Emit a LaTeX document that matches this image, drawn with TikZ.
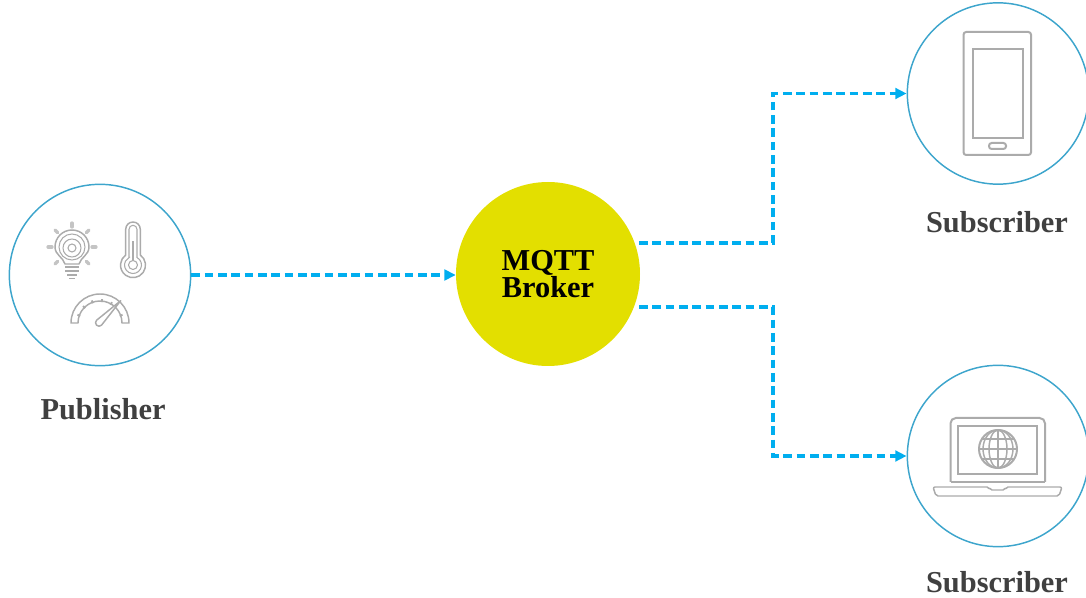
\documentclass[tikz,border=0pt]{standalone}
\usepackage{fontspec}
\setmainfont{Liberation Serif}
\usetikzlibrary{arrows.meta}
\definecolor{flowBlue}{HTML}{00AEEF}
\definecolor{ringBlue}{HTML}{3DA5CC}
\definecolor{brokerYellow}{HTML}{E3DF00}
\definecolor{iconGray}{HTML}{ABABAB}
\definecolor{labelGray}{HTML}{404040}
\begin{document}
\begin{tikzpicture}[
    x=0.75pt, y=-0.75pt,
    every node/.style={font=\fontsize{22.8}{18}\selectfont\bfseries},
    device/.style={circle, draw=ringBlue, line width=1.1pt, minimum size=136pt, inner sep=0pt},
    broker/.style={circle, fill=brokerYellow, minimum size=138pt, inner sep=0pt, align=center, text=black},
    caption/.style={text=labelGray},
    flow/.style={-{Triangle[length=8.5pt,width=8pt]}, flowBlue, line width=2.3pt, dash pattern=on 6.5pt off 3.5pt},
    icon/.style={draw=iconGray, line width=1.1pt, line join=round},
    thinicon/.style={draw=iconGray, line width=0.8pt},
    bold/.style={draw=iconGray, line width=1.5pt}
]
    \useasboundingbox (0,0) rectangle (1086,598);

% -------------------------
% Nodes
% -------------------------
    \node[device] (pub) at (100,275) {};
    \node[broker] (brk) at (548,274) {MQTT\\Broker};
    \node[device] (subTop) at (998,93.5) {};
    \node[device] (subBot) at (998,456) {};

    \node[caption] (pubLabel) at (103,409) {Publisher};
    \node[caption] (subTopLabel) at (997,222) {Subscriber};
    \node[caption] (subBotLabel) at (997,582) {Subscriber};

% -------------------------
% Arrows & Routing
% -------------------------
    \coordinate (brkTop) at (639,243);
    \coordinate (brkBot) at (639,307);
    \coordinate (turnTop) at (773,93.5);
    \coordinate (turnBot) at (773,456);

    \draw[flow] (pub) -- (brk.west |- pub);
    \draw[flow] (brkTop) -| (turnTop) -- (subTop.west);
    \draw[flow] (brkBot) -| (turnBot) -- (subBot.west);

% -------------------------
% Publisher icons
% -------------------------
    % Bulb with gear
    \draw[icon] (65,264) .. controls (63,257) and (55,255) .. (55,247)
        arc[start angle=180, end angle=360, radius=17]
        .. controls (89,255) and (81,257) .. (79,264) -- cycle;
    \draw[thinicon] (72,248) circle (9);
    \draw[thinicon] (72,248) circle (4);
    \draw[thinicon] (72,247) circle (13);
    \draw[icon] (65,267) -- (79,267) (65,271) -- (79,271);
    \draw[icon] (67,275) -- (77,275) (69,278.5) -- (75,278.5);
    \foreach \ang in {0,45,...,315} {
        \ifnum\ang=90 \else
            \draw[iconGray!70, line width=2.4pt, line cap=round] (72,247) ++(\ang:20) -- ++(\ang:4);
        \fi
    }

    % Thermometer
    \draw[icon] (125.7,255) -- (125.7,229.3) arc[start angle=180, end angle=360, radius=7.3] -- (140.3,255)
        arc[start angle=-54.3, end angle=234.3, radius=12.5] -- cycle;
    \draw[thinicon] (129,257.5) -- (129,229.3) arc[start angle=180, end angle=360, radius=4] -- (137,257.5)
        arc[start angle=-62, end angle=242, radius=8.5] -- cycle;
    \fill[iconGray] (131.7,241) rectangle (134.3,261);
    \draw[thinicon] (133,265) circle (4.5);

    % Gauge
    \draw[icon] (71,323) arc[start angle=180, end angle=360, radius=29] -- (122,323)
        arc[start angle=360, end angle=180, radius=22] -- cycle;
    \foreach \ang in {200,225,250,275,300,340} {
        \draw[iconGray, line width=1.4pt] (100,323) ++(\ang:21) -- ++(\ang:3);
    }
    \draw[icon, fill=white] (120.7,300.7) -- (101.5,325.2)
        arc[start angle=45, end angle=225, radius=3.5] -- cycle;

% -------------------------
% Subscriber icons
% -------------------------
    % Phone
    \draw[bold, rounded corners=2pt] (963.5,32) rectangle (1031,155);
    \draw[bold] (972.5,49) rectangle (1023,138);
    \draw[bold, rounded corners=2pt] (989,143) rectangle (1006,149);

    % Laptop
    \draw[bold, rounded corners=4pt] (950.5,482) -- (950.5,418) -- (1045,418) -- (1045,482);
    \draw[bold] (950.5,482) -- (1045,482);
    \draw[bold] (958,426) rectangle (1037,474);
    \draw[icon, rounded corners=1.5pt] (933,487) -- (989,487) -- (990,490) -- (1005,490) -- (1006,487)
        -- (1062,487) -- (1059,496) -- (936,496) -- cycle;

    % Globe
    \draw[bold] (998,449) circle (19);
    \draw[icon] (998,449) ellipse (9 and 19);
    \draw[icon] (998,449) ellipse (15 and 19);
    \draw[icon] (998,430) -- (998,468) (979,449) -- (1017,449);
    \draw[icon] (982,439) -- (1014,439) (982,459) -- (1014,459);
\end{tikzpicture}
\end{document}
